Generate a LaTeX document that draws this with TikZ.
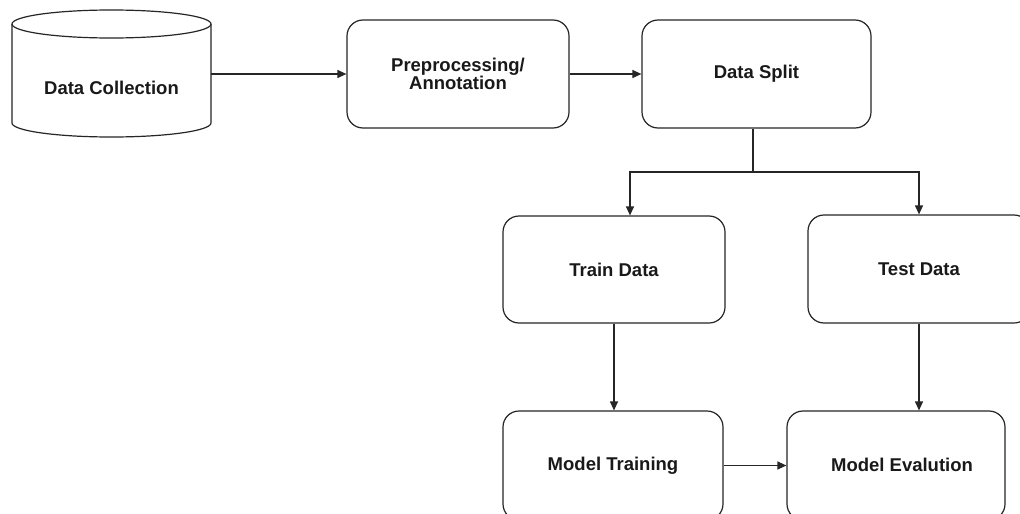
\documentclass[tikz,border=0pt]{standalone}
\usepackage{fontspec}
\setmainfont{Liberation Sans}
\usetikzlibrary{arrows.meta,calc}
\begin{document}
\begin{tikzpicture}[x=1pt,y=-1pt,
  line width=1.2pt,
  ln/.style={draw=black!85, line width=1.2pt},
  lbl/.style={font=\bfseries\fontsize{18.5}{17.5}\selectfont, text=black!90, align=center},
  procbox/.style={draw=black!85, rounded corners=16pt, line width=1.2pt, inner sep=0pt, lbl},
  flow/.style={-{Triangle[length=9pt,width=8pt]}, ln}
]
\useasboundingbox (0,0) rectangle (1020,514);
\clip (0,0) rectangle (1020,514);
\fill[white] (0,0) rectangle (1020,514);

% cylinder
\draw[ln, fill=white] (12,24) -- (12,123) arc[start angle=180,end angle=360,x radius=99.5,y radius=-14] -- (211,24);
\draw[ln] (111.5,24) ellipse[x radius=99.5,y radius=14];
\node[lbl] (dc) at (111.5,88) {Data Collection};
\coordinate (dcE) at (211,74);

\node[procbox, minimum width=222pt, minimum height=108pt] (pre) at (458,74) {Preprocessing/\\Annotation};
\node[procbox, minimum width=229pt, minimum height=108pt] (split) at (756.5,74) {Data Split};
\node[procbox, minimum width=222pt, minimum height=107pt] (train) at (614,269.5) {Train Data};
\node[procbox, minimum width=222pt, minimum height=108pt] (test) at (919,269) {Test Data};
\node[procbox, minimum width=220pt, minimum height=109pt] (mt) at (613,465.5) {Model Training};
\node[procbox, minimum width=218pt, minimum height=109pt] (me) at (896,465.5) {};
\node[lbl] (meText) at (902,465) {Model Evalution};

\draw[flow] (dcE) -- (pre.west);
\draw[flow] (pre.east) -- (split.west);
\coordinate (fork) at (753,172);
\draw[ln] (fork |- split.south) -- (fork);
\draw[flow] (fork) -| ([xshift=16pt]train.north);
\draw[flow] (fork) -| (test.north);
\draw[flow] (train.south) -- (train.south |- mt.north);
\draw[flow] (test.south) -- (test.south |- me.north);
\draw[flow] (mt.east) -- (me.west);
\end{tikzpicture}
\end{document}
